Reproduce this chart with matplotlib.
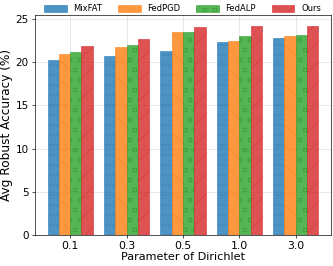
import numpy as np
import matplotlib.pyplot as plt

# Data
alphas = ['0.1', '0.3', '0.5', '1.0', '3.0']
methods = ['MixFAT', 'FedPGD', 'FedALP', 'Ours']
mixfat = [20.2, 20.7, 21.3, 22.3, 22.8]
fedpgd = [21.0, 21.7, 23.45, 22.4, 23.0]
fedalp = [21.2, 22.0, 23.5, 23.0, 23.1]
ours = [21.9, 22.7, 24.05, 24.2, 24.15]

colors = ['#1f77b4', '#ff7f0e', '#2ca02c', '#d62728']
hatches = ['-', '\\', 'o', '/']

plt.rcParams['hatch.linewidth'] = 0.5

# low dpi / large figure so hatch spacing matches the reference
DPI = 60
fig = plt.figure(figsize=(333 / DPI, 266 / DPI), dpi=DPI)
ax = fig.add_axes([34.7 / 333, 1 - 235 / 266, 296 / 333, 220 / 266])

x = np.arange(len(alphas))
w = 0.2
for i, (vals, name) in enumerate(zip([mixfat, fedpgd, fedalp, ours], methods)):
    ax.bar(x + (i - 1.5) * w, vals, w, label=name, color=colors[i], alpha=0.8,
           hatch=hatches[i], edgecolor=colors[i], linewidth=0.8, zorder=3)

ax.set_xticks(x)
ax.set_xticklabels(alphas, fontsize=13)
ax.tick_params(axis='y', labelsize=12.5)
ax.set_xlim(-0.63, 4.62)
ax.set_ylim(0, 25.46)
ax.set_yticks([0, 5, 10, 15, 20, 25])
ax.grid(True, color='#dddddd', linewidth=0.8, zorder=0)
ax.set_axisbelow(True)
ax.set_xlabel('Parameter of Dirichlet', fontsize=13.5, labelpad=1)
ax.set_ylabel('Avg Robust Accuracy (%)', fontsize=14.5, labelpad=3)

ax.legend(ncol=4, frameon=False, fontsize=10, loc='lower center',
          bbox_to_anchor=(0.5, 0.985), handlelength=2.7, handleheight=0.9,
          columnspacing=1.9, handletextpad=0.8, borderpad=0.1)

fig.savefig('out.png', dpi=DPI)
